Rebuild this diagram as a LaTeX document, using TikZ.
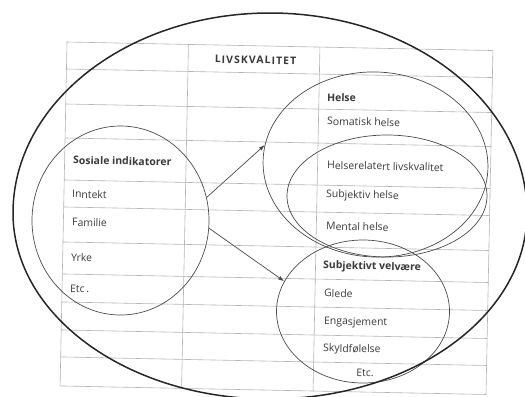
\documentclass[tikz,border=0pt]{standalone}
\usepackage{fontspec}
\setmainfont{Open Sans}
\usetikzlibrary{shapes.geometric,arrows.meta}
\definecolor{gridc}{HTML}{B4B4B4}
\definecolor{inkc}{HTML}{3A3A3A}
\definecolor{linec}{HTML}{4A4A4A}
\begin{document}
\begin{tikzpicture}[x=1bp,y=-1bp,
  tab/.style={draw=gridc,line width=0.6bp},
  lbl/.style={anchor=west,inner sep=0pt,text=inkc,font=\fontsize{10.5}{12}\selectfont,rotate=-1.15},
  hdr/.style={lbl,font=\fontsize{10.5}{12}\selectfont\bfseries},
  ring/.style={ellipse,draw=linec,line width=0.7bp,inner sep=0pt},
  arr/.style={draw=linec,line width=0.7bp,-{Latex[length=6bp,width=4bp]}},
  outer/.style={draw=black!85,line width=1.5bp}]
\useasboundingbox (0,0) rectangle (525,396);
\fill[white] (0,0) rectangle (525,396);

% table
\begin{scope}[shift={(67,42)},rotate=-1.15]
  \draw[tab] (0,0) rectangle (426,344);
  \draw[tab] (121.5,0) -- (121.5,344) (253,0) -- (253,344);
  \foreach \v in {27,62,96,138,165,200,232,260,288,315}
    \draw[tab] (0,\v) -- (426,\v);
\end{scope}

% texts
\node[hdr,anchor=center] (title) at (255.5,60) {\addfontfeature{LetterSpace=10}LIVSKVALITET};
\node[hdr] (helset) at (327,97.5) {Helse};
\node[lbl] (soma) at (327,121) {Somatisk helse};
\node[lbl] (hrlt) at (327,165) {Helserelatert livskvalitet};
\node[lbl] (subh) at (326,195) {Subjektiv helse};
\node[lbl] (ment) at (326,226) {Mental helse};
\node[hdr] (velvt) at (323,266) {Subjektivt velvære};
\node[lbl] (gled) at (324,293) {Glede};
\node[lbl] (enga) at (324,322) {Engasjement};
\node[lbl] (skyl) at (323,349) {Skyldfølelse};
\node[lbl,anchor=center] (etcr) at (365,373) {Etc.};
\node[hdr] (sost) at (73,160) {Sosiale indikatorer};
\node[lbl] (innt) at (72,194) {Inntekt};
\node[lbl] (fami) at (72,222) {Familie};
\node[lbl] (yrke) at (71,257.5) {Yrke};
\node[lbl] (etcl) at (70,289) {Etc\,.};

% ellipses
\node[ring,minimum width=177bp,minimum height=189bp] (sos) at (120.5,220.5) {};
\node[ring,minimum width=225bp,minimum height=185bp,rotate=-3] (helse) at (375.5,164.5) {};
\node[ring,minimum width=200bp,minimum height=122bp] (hrl) at (387,196) {};
\node[ring,minimum width=173bp,minimum height=143bp] (velv) at (363,311.5) {};

% outer
\draw[outer] (13,213) arc[start angle=180,end angle=360,x radius=257,y radius=200]
  arc[start angle=0,end angle=180,x radius=257,y radius=186];

% arrows
\draw[arr] (sos.15) -- (helse.173);
\draw[arr] (sos.-5) -- (velv.159);
\end{tikzpicture}
\end{document}
